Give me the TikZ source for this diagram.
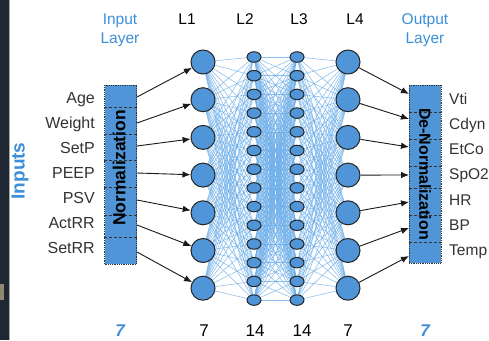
\documentclass[tikz,border=0pt]{standalone}
\usepackage{fontspec}
\setmainfont{Liberation Sans}
\usetikzlibrary{arrows.meta,shapes.geometric,backgrounds}
\definecolor{nblue}{HTML}{4F95D8}
\definecolor{lblue}{HTML}{6CAEEA}
\definecolor{tblue}{HTML}{3C8FD8}
\definecolor{stripcol}{HTML}{1F2733}
\definecolor{beigecol}{HTML}{8C8A6A}
\begin{document}
\begin{tikzpicture}[x=1pt,y=-1pt,
  bignode/.style={circle,draw=black!85,fill=nblue,line width=1pt,minimum size=24pt,inner sep=0pt},
  smallnode/.style={ellipse,draw=black!85,fill=nblue,line width=1pt,minimum width=14pt,minimum height=10.5pt,inner sep=0pt},
  normbox/.style={draw=black!80,densely dotted,fill=nblue,line width=0.8pt,minimum width=32pt,inner sep=0pt},
  divider/.style={draw=black!80,densely dashed,line width=0.8pt},
  link/.style={draw=lblue,line width=0.55pt,opacity=0.8},
  arr/.style={draw=black!90,line width=0.9pt,-{Latex[length=8pt,width=6.5pt]}},
  lab/.style={font=\fontsize{16}{16}\selectfont,text=black!80,inner sep=0pt},
  olab/.style={font=\fontsize{15.5}{15.5}\selectfont,text=black!80,inner sep=0pt},
  hdr/.style={font=\fontsize{15.5}{15.5}\selectfont,inner sep=0pt,anchor=base},
  num/.style={font=\fontsize{17}{17}\selectfont,inner sep=0pt,anchor=base}]
\useasboundingbox (0,0) rectangle (489,340);

% nodes
\foreach \i in {1,...,7}{
  \pgfmathsetmacro{\yy}{62+(\i-1)*37.7}
  \node[bignode] (a\i) at (203,\yy) {};
  \node[bignode] (d\i) at (348,\yy) {};
}
\foreach \i in {1,...,14}{
  \pgfmathsetmacro{\yy}{57+(\i-1)*18.7}
  \node[smallnode] (b\i) at (254,\yy) {};
  \node[smallnode] (c\i) at (297,\yy) {};
}
% background and links
\begin{scope}[on background layer]
\fill[white] (0,0) rectangle (489,340);
\foreach \j in {1,...,14}{
  \foreach \i in {1,...,7}{
    \draw[link] (a\i.center) -- (b\j.center);
    \draw[link] (c\j.center) -- (d\i.center);
  }
  \foreach \k in {1,...,14}{
    \draw[link] (b\j.center) -- (c\k.center);
  }
}
\end{scope}
% left dark strip
\fill[fill=stripcol] (0,0) rectangle (8.5,340);
\fill[fill=black!35] (8.5,0) rectangle (10,340);
\fill[fill=beigecol] (0,284) rectangle (4,300);

% input box
\node[normbox,minimum height=179pt] (inbox) at (120.5,174.5) {};
\foreach \yy in {107,134,160,187,215,237}{
  \draw[divider] (inbox.west |- 0,\yy) -- (inbox.east |- 0,\yy);
}
\node[rotate=90,font=\bfseries\fontsize{17.5}{17.5}\selectfont,inner sep=0pt] (normtxt) at (119,168) {Normalization};

% output box
\node[normbox,minimum height=178pt] (outbox) at (425,174) {};
\foreach \yy in {112,139,166,188,215,242}{
  \draw[divider] (outbox.west |- 0,\yy) -- (outbox.east |- 0,\yy);
}
\node[rotate=-90,font=\bfseries\fontsize{16}{16}\selectfont,inner sep=0pt] (denormtxt) at (425,174) {De-Normalization};

% input arrows
\foreach \i/\yy in {1/97,2/123,3/146,4/173,5/200,6/225,7/252}{
  \coordinate (s\i) at (137,\yy);
  \draw[arr] (s\i) -- (a\i);
}
% output arrows
\foreach \i/\yy in {1/94,2/119,3/147,4/175,5/202,6/228,7/256}{
  \coordinate (e\i) at (409,\yy);
  \draw[arr] (d\i) -- (e\i);
}

% input labels
\foreach \i/\t in {1/Age,2/Weight,3/SetP,4/PEEP,5/PSV,6/ActRR,7/SetRR}{
  \pgfmathsetmacro{\yy}{103+(\i-1)*25.15}
  \node[lab,anchor=base east] (in\i) at (95,\yy) {\t};
}
% output labels
\foreach \i/\t in {1/Vti,2/Cdyn,3/EtCo,4/SpO2,5/HR,6/BP,7/Temp}{
  \pgfmathsetmacro{\yy}{104+(\i-1)*25.3}
  \node[olab,anchor=base west] (out\i) at (449,\yy) {\t};
}

% side label
\node[rotate=90,font=\bfseries\fontsize{19}{19}\selectfont,text=tblue,inner sep=0pt] (inputs) at (20,171) {Inputs};

% headers
\node[hdr,text=tblue] (h1) at (120,24) {Input};
\node[hdr,text=tblue] (h2) at (120,43) {Layer};
\node[hdr] (hL1) at (187,24) {L1};
\node[hdr] (hL2) at (245,24) {L2};
\node[hdr] (hL3) at (299,24) {L3};
\node[hdr] (hL4) at (355,24) {L4};
\node[hdr,text=tblue] (h3) at (425,24) {Output};
\node[hdr,text=tblue] (h4) at (425,43) {Layer};

% counts
\node[num,text=tblue,font=\bfseries\itshape\fontsize{17}{17}\selectfont] (n0) at (120,336) {7};
\node[num] (n1) at (204,336) {7};
\node[num] (n2) at (255,336) {14};
\node[num] (n3) at (302,336) {14};
\node[num] (n4) at (348,336) {7};
\node[num,text=tblue,font=\bfseries\itshape\fontsize{17}{17}\selectfont] (n5) at (425,336) {7};
\end{tikzpicture}
\end{document}
